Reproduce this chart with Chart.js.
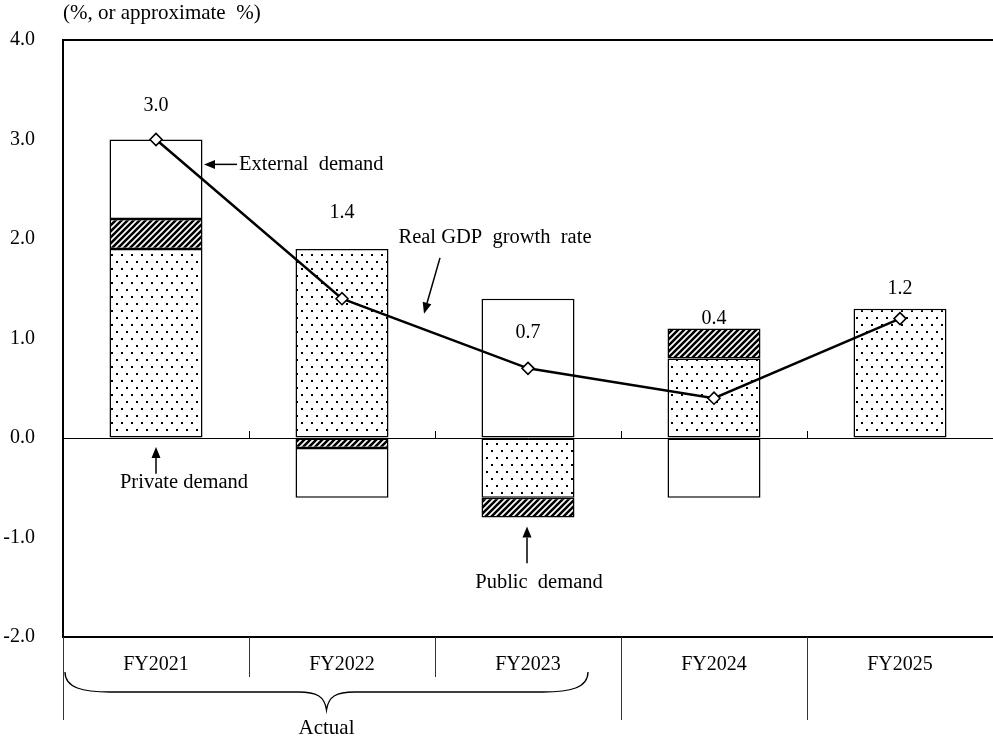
<!DOCTYPE html>
<html>
<head>
<meta charset="utf-8">
<script src="https://cdn.jsdelivr.net/npm/chart.js@4.4.1/dist/chart.umd.min.js"></script>
<style>
  html, body { margin: 0; padding: 0; background: #fff; overflow: hidden; }
  #wrap { width: 993px; height: 740px; position: relative; }
  #gdp-chart { display: block; }
</style>
</head>
<body>
<div id="wrap"><canvas id="gdp-chart"></canvas></div>
<script>
// data
const categories = ["FY2021", "FY2022", "FY2023", "FY2024", "FY2025"];
const privateDemand = [1.9, 1.9, -0.6, 0.8, 1.3];
const publicDemand = [0.3, -0.1, -0.2, 0.3, 0.0];
const externalDemand = [0.8, -0.5, 1.4, -0.6, 0.0];
const gdpGrowth = [3.0, 1.4, 0.7, 0.4, 1.2];
const gdpLabels = ["3.0", "1.4", "0.7", "0.4", "1.2"];
const yMin = -2, yMax = 4, yStep = 1;
const unitText = "(%, or approximate  %)";

const FONT = '"Liberation Serif", "Times New Roman", serif';

// dotted fill for private demand
function dotPattern() {
  const c = document.createElement("canvas");
  c.width = 10; c.height = 14;
  const g = c.getContext("2d");
  g.fillStyle = "#fff"; g.fillRect(0, 0, 10, 14);
  g.fillStyle = "#000";
  g.fillRect(1, 2, 2, 2);
  g.fillRect(6, 9, 2, 2);
  return g.createPattern(c, "repeat");
}
// diagonal hatch for public demand
function hatchPattern() {
  const s = 6;
  const c = document.createElement("canvas");
  c.width = s; c.height = s;
  const g = c.getContext("2d");
  g.fillStyle = "#fff"; g.fillRect(0, 0, s, s);
  g.strokeStyle = "#000"; g.lineWidth = 2.6;
  g.beginPath();
  g.moveTo(0, s); g.lineTo(s, 0);
  g.moveTo(-1, 1); g.lineTo(1, -1);
  g.moveTo(s - 1, s + 1); g.lineTo(s + 1, s - 1);
  g.stroke();
  return g.createPattern(c, "repeat");
}

function arrow(ctx, x1, y1, x2, y2) {
  // line from (x1,y1) with head at (x2,y2)
  const a = Math.atan2(y2 - y1, x2 - x1);
  const len = 11, w = 4.5;
  const bx = x2 - len * Math.cos(a), by = y2 - len * Math.sin(a);
  ctx.beginPath();
  ctx.moveTo(x1, y1); ctx.lineTo(bx, by);
  ctx.stroke();
  ctx.beginPath();
  ctx.moveTo(x2, y2);
  ctx.lineTo(bx + w * Math.sin(a), by - w * Math.cos(a));
  ctx.lineTo(bx - w * Math.sin(a), by + w * Math.cos(a));
  ctx.closePath();
  ctx.fill();
}

const decorations = {
  id: "decorations",
  afterDatasetsDraw(chart) {
    const ctx = chart.ctx;
    const xs = chart.scales.x, ys = chart.scales.y;
    const area = chart.chartArea;
    const step = xs.getPixelForValue(1) - xs.getPixelForValue(0);
    const bound = i => xs.getPixelForValue(i) - step / 2;
    ctx.save();
    ctx.strokeStyle = "#000"; ctx.fillStyle = "#000";

    // plot frame top and bottom
    ctx.lineWidth = 2;
    ctx.beginPath();
    ctx.moveTo(area.left, area.top); ctx.lineTo(area.right, area.top);
    ctx.moveTo(area.left, area.bottom); ctx.lineTo(area.right, area.bottom);
    ctx.stroke();

    // category separators below the plot
    ctx.lineWidth = 1;
    ctx.strokeStyle = "#333";
    ctx.beginPath();
    for (let i = 0; i < categories.length; i++) {
      const x = Math.round(bound(i)) + 0.5;
      const low = (i === 1 || i === 2) ? area.bottom + 40 : area.bottom + 83;
      ctx.moveTo(x, area.bottom); ctx.lineTo(x, low);
    }
    ctx.stroke();

    // small ticks on the zero line
    const y0 = ys.getPixelForValue(0);
    ctx.strokeStyle = "#000";
    ctx.beginPath();
    for (let i = 1; i < categories.length; i++) {
      const x = Math.round(bound(i)) + 0.5;
      ctx.moveTo(x, y0); ctx.lineTo(x, y0 - 7);
    }
    ctx.stroke();

    // brace under the actual years
    const bl = area.left + 2, br = xs.getPixelForValue(2) + 60;
    const mid = (bl + br) / 2;
    const bt = area.bottom + 35, bh = area.bottom + 55, tip = area.bottom + 73;
    ctx.lineWidth = 1.3;
    ctx.beginPath();
    ctx.moveTo(bl, bt);
    ctx.bezierCurveTo(bl, bh - 4, bl + 18, bh, bl + 45, bh);
    ctx.lineTo(mid - 28, bh);
    ctx.bezierCurveTo(mid - 10, bh, mid - 2, bh + 4, mid, tip);
    ctx.bezierCurveTo(mid + 2, bh + 4, mid + 10, bh, mid + 28, bh);
    ctx.lineTo(br - 45, bh);
    ctx.bezierCurveTo(br - 18, bh, br, bh - 4, br, bt);
    ctx.stroke();

    ctx.font = "21px " + FONT;
    ctx.textAlign = "center"; ctx.textBaseline = "middle";
    ctx.fillText("Actual", mid, area.bottom + 91);

    // unit label
    ctx.textAlign = "left";
    ctx.font = "21px " + FONT;
    ctx.fillText(unitText, area.left, 13);

    // GDP value labels
    const meta = chart.getDatasetMeta(3);
    const lift = [34, 86, 36, 79, 30];
    ctx.font = "20px " + FONT;
    ctx.textAlign = "center";
    meta.data.forEach((p, i) => {
      ctx.fillText(gdpLabels[i], p.x, p.y - lift[i]);
    });

    // callouts
    ctx.lineWidth = 1.5;
    ctx.font = "20.5px " + FONT;
    const c0 = xs.getPixelForValue(0), c1 = xs.getPixelForValue(1), c2 = xs.getPixelForValue(2);
    ctx.textAlign = "left";
    arrow(ctx, c0 + 81, ys.getPixelForValue(2.75), c0 + 48, ys.getPixelForValue(2.75));
    ctx.fillText("External  demand", c0 + 83, ys.getPixelForValue(2.75));

    ctx.textAlign = "center";
    ctx.fillText("Real GDP  growth  rate", (c1 + c2) / 2 + 60, ys.getPixelForValue(2.01));
    arrow(ctx, (c1 + c2) / 2 + 5, ys.getPixelForValue(1.81), (c1 + c2) / 2 - 11, ys.getPixelForValue(1.25));

    arrow(ctx, c0, ys.getPixelForValue(-0.36), c0, ys.getPixelForValue(-0.09));
    ctx.fillText("Private demand", c0 + 28, ys.getPixelForValue(-0.45));

    arrow(ctx, c2 - 1, ys.getPixelForValue(-1.26), c2 - 1, ys.getPixelForValue(-0.89));
    ctx.fillText("Public  demand", c2 + 11, ys.getPixelForValue(-1.45));

    ctx.restore();
  }
};

const barCommon = {
  type: "bar",
  stack: "demand",
  borderColor: "#000",
  borderWidth: 1.5,
  borderSkipped: false,
  barPercentage: 0.5,
  categoryPercentage: 1,
  order: 1
};

new Chart(document.getElementById("gdp-chart"), {
  data: {
    labels: categories,
    datasets: [
      Object.assign({ label: "Private demand", data: privateDemand, backgroundColor: dotPattern() }, barCommon),
      Object.assign({ label: "Public demand", data: publicDemand, backgroundColor: hatchPattern() }, barCommon),
      Object.assign({ label: "External demand", data: externalDemand, backgroundColor: "#fff" }, barCommon),
      {
        type: "line",
        label: "Real GDP growth rate",
        data: gdpGrowth,
        stack: "gdp",
        borderColor: "#000",
        borderWidth: 2.5,
        tension: 0,
        pointStyle: "rectRot",
        pointRadius: 6,
        pointBackgroundColor: "#fff",
        pointBorderColor: "#000",
        pointBorderWidth: 1.6,
        order: 0
      }
    ]
  },
  options: {
    responsive: true,
    maintainAspectRatio: false,
    animation: false,
    layout: { autoPadding: false, padding: { top: 37, right: 0, left: 0, bottom: 0 } },
    plugins: {
      legend: { display: false },
      tooltip: { enabled: false }
    },
    scales: {
      x: {
        stacked: true,
        grid: { display: false },
        border: { display: false },
        ticks: { color: "#000", font: { family: FONT, size: 20 }, padding: 8 },
        afterFit: s => { s.height = 103; }
      },
      y: {
        stacked: true,
        min: yMin, max: yMax,
        ticks: {
          stepSize: yStep,
          color: "#000",
          font: { family: FONT, size: 20 },
          padding: 28,
          callback: v => v.toFixed(1)
        },
        grid: {
          drawTicks: false,
          color: c => c.tick && c.tick.value === 0 ? "#000" : "rgba(0,0,0,0)",
          lineWidth: 1
        },
        border: { display: true, color: "#000", width: 2 },
        afterFit: s => { s.width = 63; }
      }
    }
  },
  plugins: [decorations]
});
</script>
</body>
</html>
